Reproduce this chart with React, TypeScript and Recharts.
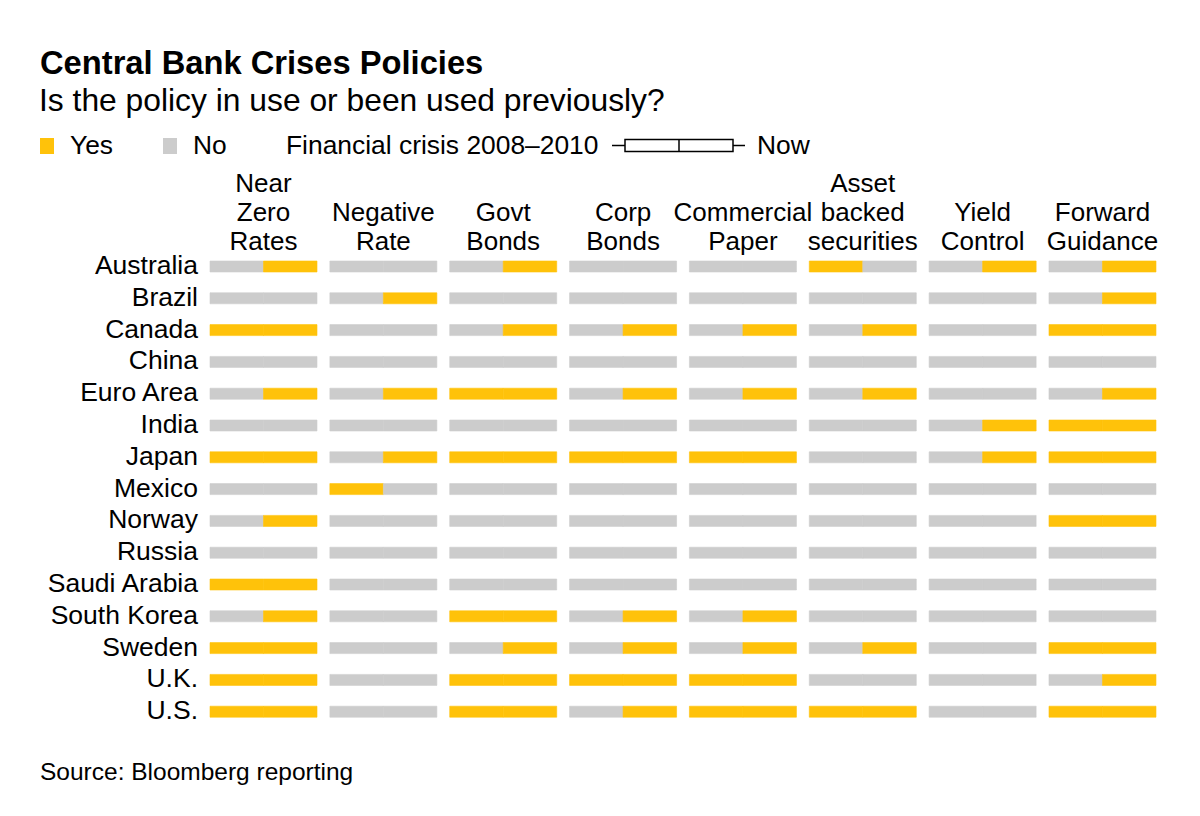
import React from 'react';
import { BarChart, Bar, XAxis, YAxis, Cell } from 'recharts';

const FONT = '"Liberation Sans", Arial, Helvetica, sans-serif';
const YES = '#ffc20a';
const NO = '#cccccc';

const countries = [
  'Australia', 'Brazil', 'Canada', 'China', 'Euro Area', 'India', 'Japan', 'Mexico',
  'Norway', 'Russia', 'Saudi Arabia', 'South Korea', 'Sweden', 'U.K.', 'U.S.',
];

const policies = [
  'Near\nZero\nRates', 'Negative\nRate', 'Govt\nBonds', 'Corp\nBonds',
  'Commercial\nPaper', 'Asset\nbacked\nsecurities', 'Yield\nControl', 'Forward\nGuidance',
];

// 1 = policy used, 0 = not used; one value per country, in the order above
const nearZeroCrisis = [0, 0, 1, 0, 0, 0, 1, 0, 0, 0, 1, 0, 1, 1, 1];
const nearZeroNow = [1, 0, 1, 0, 1, 0, 1, 0, 1, 0, 1, 1, 1, 1, 1];
const negativeCrisis = [0, 0, 0, 0, 0, 0, 0, 1, 0, 0, 0, 0, 0, 0, 0];
const negativeNow = [0, 1, 0, 0, 1, 0, 1, 0, 0, 0, 0, 0, 0, 0, 0];
const govtCrisis = [0, 0, 0, 0, 1, 0, 1, 0, 0, 0, 0, 1, 0, 1, 1];
const govtNow = [1, 0, 1, 0, 1, 0, 1, 0, 0, 0, 0, 1, 1, 1, 1];
const corpCrisis = [0, 0, 0, 0, 0, 0, 1, 0, 0, 0, 0, 0, 0, 1, 0];
const corpNow = [0, 0, 1, 0, 1, 0, 1, 0, 0, 0, 0, 1, 1, 1, 1];
const paperCrisis = [0, 0, 0, 0, 0, 0, 1, 0, 0, 0, 0, 0, 0, 1, 1];
const paperNow = [0, 0, 1, 0, 1, 0, 1, 0, 0, 0, 0, 1, 1, 1, 1];
const absCrisis = [1, 0, 0, 0, 0, 0, 0, 0, 0, 0, 0, 0, 0, 0, 1];
const absNow = [0, 0, 1, 0, 1, 0, 0, 0, 0, 0, 0, 0, 1, 0, 1];
const yieldCrisis = [0, 0, 0, 0, 0, 0, 0, 0, 0, 0, 0, 0, 0, 0, 0];
const yieldNow = [1, 0, 0, 0, 0, 1, 1, 0, 0, 0, 0, 0, 0, 0, 0];
const guidanceCrisis = [0, 0, 1, 0, 0, 1, 1, 0, 1, 0, 0, 0, 1, 0, 1];
const guidanceNow = [1, 1, 1, 0, 1, 1, 1, 0, 1, 0, 0, 0, 1, 1, 1];

const crisisFlags = [nearZeroCrisis, negativeCrisis, govtCrisis, corpCrisis, paperCrisis, absCrisis, yieldCrisis, guidanceCrisis];
const nowFlags = [nearZeroNow, negativeNow, govtNow, corpNow, paperNow, absNow, yieldNow, guidanceNow];

// each policy column = two halves (crisis, now) of width 1, spacer between columns
const GAP = 0.24;
const TOTAL = policies.length * 2 + (policies.length - 1) * GAP;
const columnCenters = policies.map((_, i) => i * (2 + GAP) + 1);

const data = countries.map((country) => {
  const row: Record<string, any> = { country };
  policies.forEach((_, p) => {
    row[`c${p}`] = 1;
    row[`n${p}`] = 1;
    if (p < policies.length - 1) row[`g${p}`] = GAP;
  });
  return row;
});

function HeaderTick(props: any) {
  const { x, y, payload } = props;
  const idx = Math.round((payload.value - 1) / (2 + GAP));
  const lines = (policies[idx] || '').split('\n');
  const n = lines.length;
  return (
    <text x={x} y={y} textAnchor="middle" fontFamily={FONT} fontSize={26} fill="#000">
      {lines.map((l, i) => (
        <tspan key={i} x={x} y={y - 1 - (n - 1 - i) * 28.8}>{l}</tspan>
      ))}
    </text>
  );
}

function CountryTick(props: any) {
  const { x, y, payload } = props;
  return (
    <text x={x} y={y + 7} textAnchor="end" fontFamily={FONT} fontSize={26.5} fill="#000">
      {payload.value}
    </text>
  );
}

function Legend() {
  return (
    <svg width={1200} height={816} style={{ position: 'absolute', left: 0, top: 0, pointerEvents: 'none' }}>
      <text x={40} y={74} fontFamily={FONT} fontWeight="bold" fontSize={32.7} fill="#000">
        Central Bank Crises Policies
      </text>
      <text x={39} y={111} fontFamily={FONT} fontSize={31.8} fill="#000">
        Is the policy in use or been used previously?
      </text>
      <rect x={40} y={138} width={14} height={16} fill={YES} />
      <text x={70} y={154} fontFamily={FONT} fontSize={26.4} fill="#000">Yes</text>
      <rect x={163} y={138} width={14} height={16} fill={NO} />
      <text x={193} y={154} fontFamily={FONT} fontSize={26.4} fill="#000">No</text>
      <text x={286} y={154} fontFamily={FONT} fontSize={26.4} fill="#000">Financial crisis 2008–2010</text>
      <line x1={612} y1={145.5} x2={745} y2={145.5} stroke="#000" strokeWidth={1.5} />
      <rect x={625} y={139.5} width={108} height={12} fill="#fff" stroke="#000" strokeWidth={1.5} />
      <line x1={679} y1={139.5} x2={679} y2={151.5} stroke="#000" strokeWidth={1.5} />
      <text x={757} y={154} fontFamily={FONT} fontSize={26.4} fill="#000">Now</text>
      <text x={40} y={780} fontFamily={FONT} fontSize={24.5} fill="#000">Source: Bloomberg reporting</text>
    </svg>
  );
}

export default function App() {
  const bars: React.ReactNode[] = [];
  policies.forEach((_, p) => {
    bars.push(
      <Bar key={`c${p}`} dataKey={`c${p}`} stackId="s" isAnimationActive={false}>
        {countries.map((_, r) => {
          const col = crisisFlags[p][r] ? YES : NO;
          return <Cell key={r} fill={col} stroke={col} strokeWidth={0.6} />;
        })}
      </Bar>
    );
    bars.push(
      <Bar key={`n${p}`} dataKey={`n${p}`} stackId="s" isAnimationActive={false}>
        {countries.map((_, r) => {
          const col = nowFlags[p][r] ? YES : NO;
          return <Cell key={r} fill={col} stroke={col} strokeWidth={0.6} />;
        })}
      </Bar>
    );
    if (p < policies.length - 1) {
      bars.push(
        <Bar key={`g${p}`} dataKey={`g${p}`} stackId="s" fill="transparent" isAnimationActive={false} />
      );
    }
  });

  return (
    <div style={{ position: 'absolute', left: 0, top: 0, width: 1200, height: 816, background: '#fff' }}>
      <BarChart
        width={1200}
        height={816}
        data={data}
        layout="vertical"
        margin={{ top: 151, right: 44, bottom: 88, left: 0 }}
        barSize={11}
      >
        <XAxis
          type="number"
          orientation="top"
          domain={[0, TOTAL]}
          ticks={columnCenters}
          interval={0}
          height={100}
          axisLine={false}
          tickLine={false}
          tickSize={0}
          tickMargin={0}
          tick={<HeaderTick />}
        />
        <YAxis
          type="category"
          dataKey="country"
          width={210}
          axisLine={false}
          tickLine={false}
          tickSize={0}
          tickMargin={12}
          interval={0}
          tick={<CountryTick />}
        />
        {bars}
      </BarChart>
      <Legend />
    </div>
  );
}
